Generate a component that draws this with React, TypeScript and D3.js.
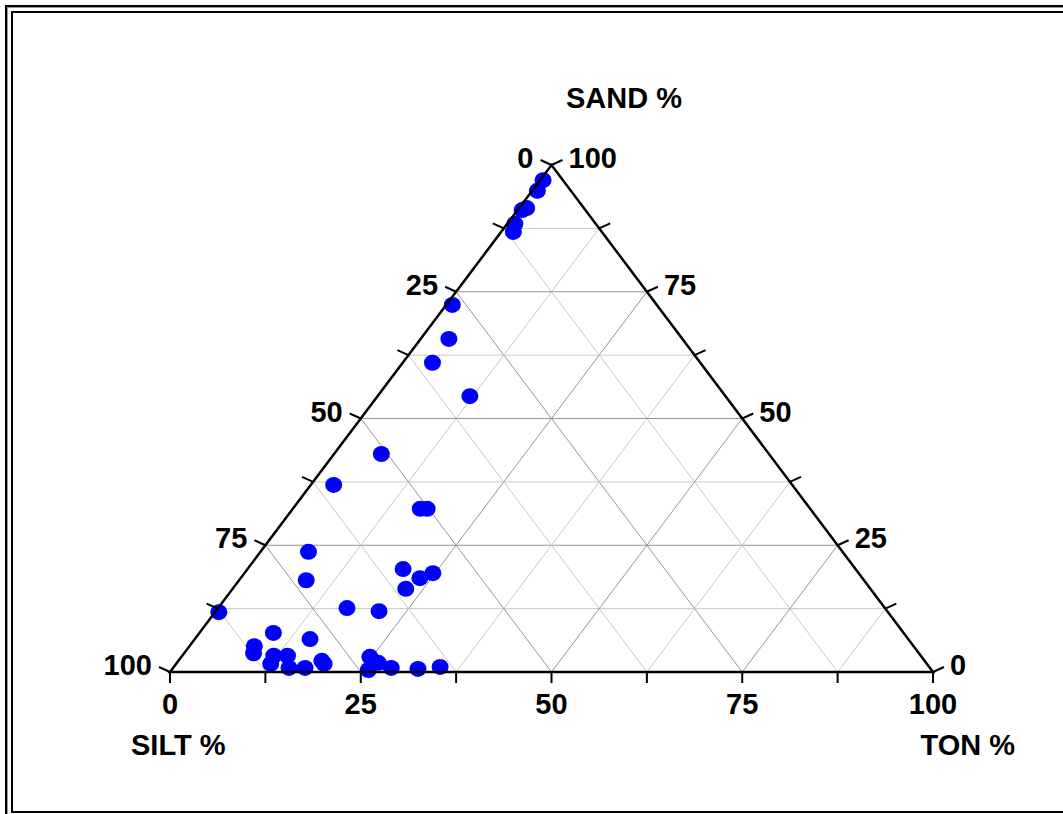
import React from "react";
import * as d3 from "d3";

// Grain-size composition of each sample (percent, rows sum to 100)
const sand = [
  97.0, 94.9, 91.5, 91.1, 88.4, 86.8, 72.4, 65.7, 61.0, 54.4,
  43.0, 36.9, 32.2, 32.2, 23.7, 18.1, 20.3, 18.5, 19.5, 16.4,
  11.8, 12.6, 12.0, 7.7, 5.1, 3.7, 6.5, 1.6, 3.2, 3.2,
  0.8, 0.8, 2.2, 1.6, 0.4, 3.0, 1.8, 0.8, 0.6, 1.0,
];
const ton = [
  0.4, 0.7, 1.0, 0.6, 1.0, 1.6, 0.8, 3.7, 3.9, 12.1,
  6.2, 3.0, 16.7, 17.6, 6.3, 8.8, 20.4, 23.5, 24.7, 22.7,
  0.5, 16.9, 21.4, 9.7, 8.5, 9.1, 15.1, 12.4, 12.0, 13.8,
  15.2, 17.3, 18.8, 19.4, 25.8, 24.7, 26.4, 28.6, 32.2, 34.9,
];
const silt = [
  2.6, 4.4, 7.5, 8.3, 10.6, 11.6, 26.8, 30.6, 35.1, 33.5,
  50.8, 60.1, 51.1, 50.2, 70.0, 73.1, 59.3, 58.0, 55.8, 60.9,
  87.7, 70.5, 66.6, 82.6, 86.4, 87.2, 78.4, 86.0, 84.8, 83.0,
  84.0, 81.9, 79.0, 79.0, 73.8, 72.3, 71.8, 70.6, 67.2, 64.1,
];

// Axis graduation
const gridSteps = [12.5, 25, 37.5, 50, 62.5, 75, 87.5];
const tickSteps = [0, 12.5, 25, 37.5, 50, 62.5, 75, 87.5, 100];
const labelSteps = [0, 25, 50, 75, 100];

const W = 1063;
const H = 814;
const FONT = "'Liberation Sans', Arial, Helvetica, sans-serif";
const FS = 29;

// Ternary projection: horizontal position from TON (+ half SAND), vertical from SAND
const xScale = d3.scaleLinear().domain([0, 100]).range([170, 933]);
const yScale = d3.scaleLinear().domain([0, 100]).range([672, 165]);
const proj = (sa: number, to: number): [number, number] => [
  xScale(to + sa / 2),
  yScale(sa),
];

// Tick vectors (pointing outward from each edge)
const TICK_LEFT: [number, number] = [-11, -5];
const TICK_RIGHT: [number, number] = [11, -5];
const TICK_BOTTOM: [number, number] = [0, 11];

export default function App() {
  const line = d3.line<[number, number]>();

  const grid: { d: string; major: boolean }[] = [];
  gridSteps.forEach((v) => {
    const major = v % 25 === 0;
    // constant SAND (horizontal)
    grid.push({ d: line([proj(v, 0), proj(v, 100 - v)])!, major });
    // constant TON (parallel to the SILT–SAND edge)
    grid.push({ d: line([proj(0, v), proj(100 - v, v)])!, major });
    // constant SILT (parallel to the SAND–TON edge)
    grid.push({ d: line([proj(0, 100 - v), proj(100 - v, 0)])!, major });
  });

  const A = proj(0, 0); // SILT 100
  const B = proj(0, 100); // TON 100
  const C = proj(100, 0); // SAND 100

  const ticks: { x1: number; y1: number; x2: number; y2: number }[] = [];
  const labels: { x: number; y: number; t: string; anchor: string }[] = [];

  tickSteps.forEach((v) => {
    // left edge: SILT, 0 at top, 100 at bottom-left
    const [lx, ly] = proj(100 - v, 0);
    ticks.push({ x1: lx, y1: ly, x2: lx + TICK_LEFT[0], y2: ly + TICK_LEFT[1] });
    // right edge: SAND, 0 at bottom-right, 100 at top
    const [rx, ry] = proj(v, 100 - v);
    ticks.push({ x1: rx, y1: ry, x2: rx + TICK_RIGHT[0], y2: ry + TICK_RIGHT[1] });
    // bottom edge: TON, 0 at left, 100 at right
    const [bx, by] = proj(0, v);
    ticks.push({ x1: bx, y1: by, x2: bx + TICK_BOTTOM[0], y2: by + TICK_BOTTOM[1] });

    if (labelSteps.includes(v)) {
      labels.push({
        x: lx + TICK_LEFT[0] - 7,
        y: ly + TICK_LEFT[1] + 8,
        t: String(v),
        anchor: "end",
      });
      labels.push({
        x: rx + TICK_RIGHT[0] + 6,
        y: ry + TICK_RIGHT[1] + 8,
        t: String(v),
        anchor: "start",
      });
      labels.push({
        x: bx,
        y: by + TICK_BOTTOM[1] + 31,
        t: String(v),
        anchor: "middle",
      });
    }
  });

  const points = sand.map((s, i) => ({ p: proj(s, ton[i]), silt: silt[i] }));

  return (
    <svg
      width={W}
      height={H}
      style={{ position: "absolute", left: 0, top: 0, background: "#fff" }}
      fontFamily={FONT}
    >
      <rect x={0} y={0} width={W} height={H} fill="#fff" />
      {/* double frame */}
      <rect x={6} y={6} width={W + 20} height={H + 20} fill="none" stroke="#000" strokeWidth={2} />
      <rect x={7.5} y={7.5} width={W + 20} height={H + 20} fill="none" stroke="#999" strokeWidth={1} />
      <rect x={12} y={12} width={W + 20} height={800} fill="none" stroke="#000" strokeWidth={2} />

      {/* grid */}
      <g fill="none" strokeWidth={1}>
        {grid.map((g, i) => (
          <path key={i} d={g.d} stroke={g.major ? "#949494" : "#c8c8c8"} />
        ))}
      </g>

      {/* samples */}
      <g fill="#0000ff">
        {points.map((pt, i) => (
          <ellipse key={i} cx={pt.p[0]} cy={pt.p[1]} rx={8.5} ry={8} />
        ))}
      </g>

      {/* triangle edges */}
      <path
        d={line([A, B, C, A])! + "Z"}
        fill="none"
        stroke="#000"
        strokeWidth={2.5}
        strokeLinejoin="miter"
      />
      <g stroke="#000" strokeWidth={2}>
        {ticks.map((t, i) => (
          <line key={i} x1={t.x1} y1={t.y1} x2={t.x2} y2={t.y2} />
        ))}
      </g>

      {/* tick labels */}
      <g fontSize={FS} fontWeight="bold" fill="#000">
        {labels.map((l, i) => (
          <text key={i} x={l.x} y={l.y} textAnchor={l.anchor as any}>
            {l.t}
          </text>
        ))}
      </g>

      {/* axis titles */}
      <g fontSize={FS} fontWeight="bold" fill="#000">
        <text x={624} y={108} textAnchor="middle">SAND %</text>
        <text x={131} y={755} textAnchor="start">SILT %</text>
        <text x={1015} y={755} textAnchor="end">TON %</text>
      </g>
    </svg>
  );
}
